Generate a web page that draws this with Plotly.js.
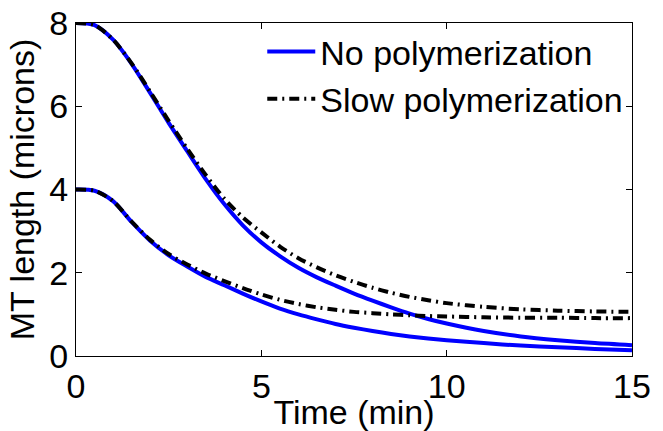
<!DOCTYPE html>
<html>
<head>
<meta charset="utf-8">
<script src="https://cdn.plot.ly/plotly-3.0.1.min.js"></script>
<style>html,body{margin:0;padding:0;background:#fff;}</style>
</head>
<body>
<div id="chart" style="width:663px;height:431px;"></div>
<script>
const time = [0, 0.5, 1, 1.5, 2, 2.5, 3, 3.5, 4, 4.5, 5, 5.5, 6, 6.5, 7, 7.5, 8, 8.5, 9, 9.5, 10, 11, 12, 13, 14, 15];
const noPoly8 = [8, 7.95, 7.6, 7.02, 6.32, 5.6, 4.92, 4.25, 3.65, 3.14, 2.73, 2.40, 2.12, 1.89, 1.69, 1.50, 1.33, 1.17, 1.02, 0.89, 0.78, 0.60, 0.47, 0.38, 0.31, 0.26];
const slowPoly8 = [8, 7.95, 7.6, 7.03, 6.35, 5.65, 4.98, 4.35, 3.78, 3.33, 2.97, 2.63, 2.35, 2.13, 1.94, 1.78, 1.64, 1.52, 1.42, 1.34, 1.27, 1.18, 1.12, 1.09, 1.07, 1.06];
const noPoly4 = [4, 3.97, 3.72, 3.22, 2.77, 2.42, 2.15, 1.90, 1.70, 1.50, 1.31, 1.14, 1.0, 0.88, 0.77, 0.68, 0.6, 0.53, 0.47, 0.42, 0.38, 0.31, 0.25, 0.21, 0.17, 0.14];
const slowPoly4 = [4, 3.97, 3.72, 3.23, 2.79, 2.45, 2.2, 1.98, 1.8, 1.63, 1.48, 1.35, 1.25, 1.17, 1.11, 1.06, 1.03, 1.0, 0.98, 0.96, 0.95, 0.93, 0.92, 0.92, 0.91, 0.91];
const seriesNames = ["No polymerization", "Slow polymerization"];
const xTicks = [0, 5, 10, 15];
const yTicks = [0, 2, 4, 6, 8];

const blue = {color: '#0000ff', width: 4};
const black = {color: '#000000', width: 4, dash: '10px,5px,2px,5px'};

const traces = [
  {x: time, y: noPoly8, mode: 'lines', line: blue, name: seriesNames[0], legendgroup: 'a'},
  {x: time, y: noPoly4, mode: 'lines', line: blue, name: seriesNames[0], legendgroup: 'a', showlegend: false},
  {x: time, y: slowPoly8, mode: 'lines', line: black, name: seriesNames[1], legendgroup: 'b'},
  {x: time, y: slowPoly4, mode: 'lines', line: black, name: seriesNames[1], legendgroup: 'b', showlegend: false}
];
traces.forEach(t => { t.line = Object.assign({shape: 'spline', smoothing: 0.8}, t.line); });

const font = {family: 'Liberation Sans, Arial, sans-serif', size: 34, color: '#000'};
const axisCommon = {
  showgrid: false, zeroline: false, showline: true, linecolor: '#000', linewidth: 1,
  mirror: 'ticks', ticks: 'inside', ticklen: 6, tickcolor: '#000', tickwidth: 1,
  tickfont: font
};

const layout = {
  width: 663, height: 431,
  margin: {l: 76, r: 31, t: 23, b: 75},
  paper_bgcolor: '#fff', plot_bgcolor: '#fff',
  font: font,
  showlegend: true,
  legend: {x: 0.335, y: 1.0, xanchor: 'left', yanchor: 'top', bgcolor: 'rgba(0,0,0,0)', font: font,
    tracegroupgap: 0, itemwidth: 48},
  xaxis: Object.assign({}, axisCommon, {range: [0, 15], tickvals: xTicks, ticktext: xTicks.map(String),
    title: {text: 'Time (min)', font: font, standoff: 0}}),
  yaxis: Object.assign({}, axisCommon, {range: [0, 8], tickvals: yTicks, ticktext: yTicks.map(String),
    title: {text: 'MT length (microns)', font: font, standoff: 4}})
};

Plotly.newPlot('chart', traces, layout, {staticPlot: true, displayModeBar: false});
</script>
</body>
</html>
